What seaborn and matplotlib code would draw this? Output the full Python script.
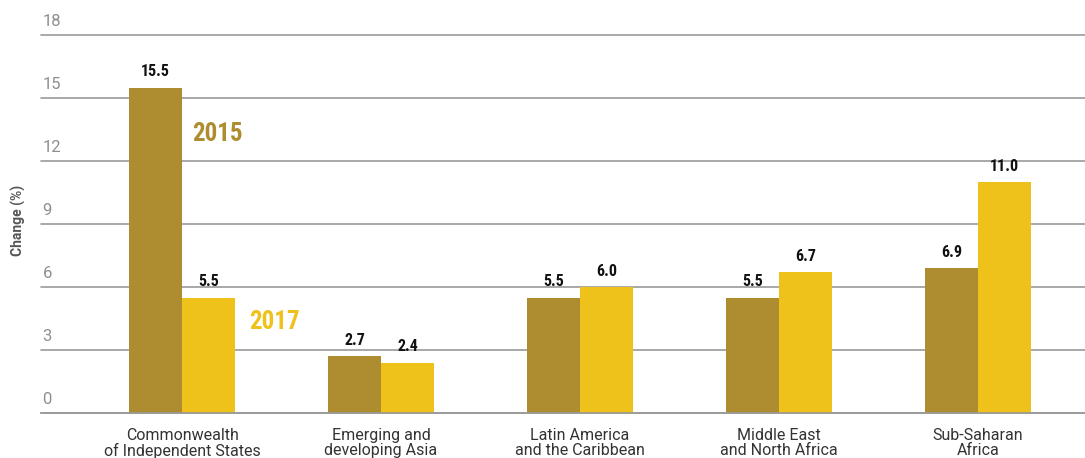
import matplotlib
matplotlib.use("Agg")
import matplotlib.pyplot as plt
import seaborn as sns
import pandas as pd
from matplotlib.transforms import blended_transform_factory

categories = ["Commonwealth\nof Independent States", "Emerging and\ndeveloping Asia",
              "Latin America\nand the Caribbean", "Middle East\nand North Africa",
              "Sub-Saharan\nAfrica"]
years = ["2015", "2017"]
values_2015 = [15.5, 2.7, 5.5, 5.5, 6.9]
values_2017 = [5.5, 2.4, 6.0, 6.7, 11.0]
yticks = [0, 3, 6, 9, 12, 15, 18]
colors = ["#AE8D30", "#EFC11B"]

df = pd.DataFrame({
    "region": categories * 2,
    "year": ["2015"] * len(categories) + ["2017"] * len(categories),
    "value": values_2015 + values_2017,
})

sns.set_theme(style="white")
plt.rcParams["font.family"] = ["Roboto", "DejaVu Sans"]
COND = ["Roboto Condensed", "Oswald", "Barlow Condensed", "DejaVu Sans"]

fig = plt.figure(figsize=(10.85, 4.58), dpi=100)
ax = fig.add_axes([41 / 1085, 45 / 458, 1 - 41 / 1085, 378 / 458])

sns.barplot(data=df, x="region", y="value", hue="year", palette=colors,
            width=0.535, saturation=1, ax=ax, legend=False, errorbar=None,
            linewidth=0)

ax.set_ylim(0, 18)
ax.set_xlim(-0.709, 4.538)
ax.set_yticks(yticks)
ax.yaxis.grid(True, color="#9a9a9a", linewidth=1.2)
for gl in ax.get_ygridlines():
    gl.set_clip_on(False)
ax.set_axisbelow(True)
for s in ["top", "right", "left"]:
    ax.spines[s].set_visible(False)
ax.spines["bottom"].set_color("#9a9a9a")
ax.spines["bottom"].set_linewidth(1.2)
ax.tick_params(axis="y", left=False, labelleft=False)
ax.tick_params(axis="x", bottom=False, pad=5)
ax.set_xticks(range(len(categories)))
ax.set_xticklabels(categories, fontsize=11.5, color="#333333", linespacing=1.0)
ax.set_xlabel("")
ax.set_ylabel("")

# y tick labels above gridlines
trans = blended_transform_factory(ax.transAxes, ax.transData)
for t in yticks:
    ax.text(0.0015, t + 0.3, str(t), transform=trans, ha="left", va="bottom",
            fontsize=12, color="#8f8f8f", clip_on=False)

fig.text(18 / 1085, 1 - 220 / 458, "Change (%)", rotation=90, ha="center", va="center",
         fontsize=10, fontweight="bold", color="#555555")

# value labels
for cont in ax.containers:
    ax.bar_label(cont, fmt="%.1f", padding=6, fontsize=11.5, fontweight="bold",
                 family=COND, color="#111111")

# inline legend
ax.text(0.05, 13.3, "2015", ha="left", va="center", fontsize=18, fontweight="bold",
        family=COND, color=colors[0])
ax.text(0.337, 4.33, "2017", ha="left", va="center", fontsize=18, fontweight="bold",
        family=COND, color=colors[1])

fig.savefig("out.png", dpi=100)
